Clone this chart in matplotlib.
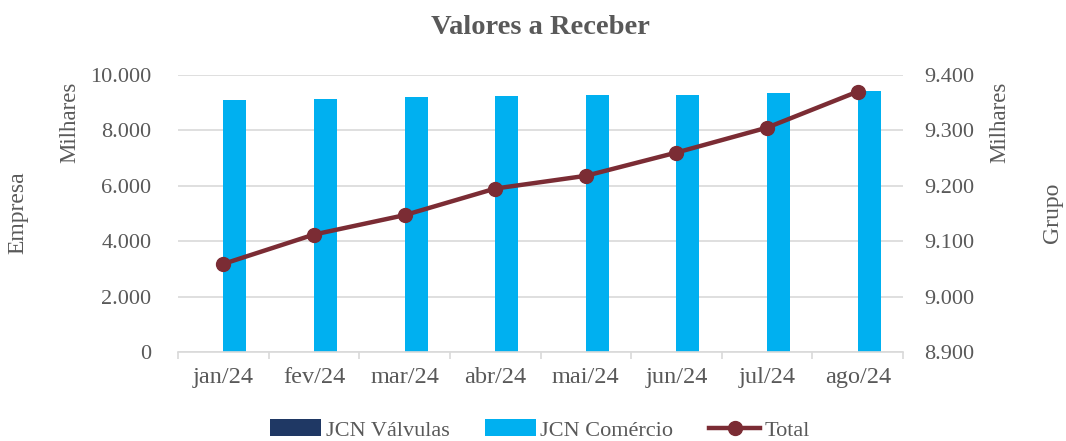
import numpy as np
import matplotlib
matplotlib.use("Agg")
import matplotlib.pyplot as plt
from matplotlib.ticker import FuncFormatter, MultipleLocator, FixedLocator

# dados (em milhares)
meses = ["jan/24", "fev/24", "mar/24", "abr/24", "mai/24", "jun/24", "jul/24", "ago/24"]
jcn_valvulas = [0, 0, 0, 0, 0, 0, 0, 0]
jcn_comercio = [9087, 9144, 9195, 9231, 9267, 9289, 9339, 9412]
total = [9059, 9112, 9147, 9195, 9218, 9260, 9305, 9370]

COR_TEXTO = "#595959"
COR_GRADE = "#D9D9D9"
COR_VALV = "#1F3864"
COR_COM = "#00B0F0"
COR_TOTAL = "#7B2C34"
FONTE = ["Liberation Serif", "DejaVu Serif"]

plt.rcParams["font.family"] = FONTE

def fmt_milhar(v, pos):
    return f"{v:,.0f}".replace(",", ".")

fig = plt.figure(figsize=(10.66, 4.41), dpi=100)
ax = fig.add_axes([178 / 1066, 1 - 352 / 441, 725 / 1066, 277 / 441])
ax2 = ax.twinx()

x = np.arange(len(meses))
larg = 0.254
ax.bar(x - larg, jcn_valvulas, width=larg, align="edge", color=COR_VALV, label="JCN Válvulas", zorder=2)
ax.bar(x, jcn_comercio, width=larg, align="edge", color=COR_COM, label="JCN Comércio", zorder=2)
ax2.plot(x, total, color=COR_TOTAL, lw=3.2, marker="o", ms=10, label="Total", zorder=3)

ax.set_xlim(-0.5, len(meses) - 0.5)
ax.set_ylim(0, 10000)
ax2.set_ylim(8900, 9400)
ax.yaxis.set_major_locator(MultipleLocator(2000))
ax2.yaxis.set_major_locator(MultipleLocator(100))
ax.yaxis.set_major_formatter(FuncFormatter(fmt_milhar))
ax2.yaxis.set_major_formatter(FuncFormatter(fmt_milhar))
ax.grid(axis="y", color=COR_GRADE, lw=1.2, zorder=0)
ax.set_axisbelow(True)

ax.set_xticks(x)
ax.set_xticklabels(meses)
ax.xaxis.set_minor_locator(FixedLocator(np.arange(-0.5, len(meses), 1.0)))
ax.tick_params(axis="x", which="major", length=0, pad=11, labelsize=17.5, labelcolor=COR_TEXTO)
ax.tick_params(axis="x", which="minor", length=5, color=COR_GRADE, width=1.2)
ax.tick_params(axis="y", length=0, pad=19, labelsize=16, labelcolor=COR_TEXTO)
ax2.tick_params(axis="y", length=0, pad=15, labelsize=16, labelcolor=COR_TEXTO)

for a in (ax, ax2):
    for lado in ("top", "left", "right", "bottom"):
        a.spines[lado].set_visible(False)
ax.spines["bottom"].set_visible(True)
ax.spines["bottom"].set_color(COR_GRADE)
ax.spines["bottom"].set_linewidth(1.2)

fig.text(540 / 1066, 1 - 27 / 441, "Valores a Receber", ha="center", va="center",
         fontsize=20.5, fontweight="bold", color=COR_TEXTO)
fig.text(18 / 1066, 1 - 213 / 441, "Empresa", rotation=90, ha="center", va="center",
         fontsize=17, color=COR_TEXTO)
fig.text(70 / 1066, 1 - 122 / 441, "Milhares", rotation=90, ha="center", va="center",
         fontsize=16.5, color=COR_TEXTO)
fig.text(1000 / 1066, 1 - 122 / 441, "Milhares", rotation=90, ha="center", va="center",
         fontsize=16.5, color=COR_TEXTO)
fig.text(1053 / 1066, 1 - 213 / 441, "Grupo", rotation=90, ha="center", va="center",
         fontsize=17, color=COR_TEXTO)

h1, l1 = ax.get_legend_handles_labels()
h2, l2 = ax2.get_legend_handles_labels()
leg = fig.legend(h1 + h2, l1 + l2, loc="center", bbox_to_anchor=(540 / 1066, 1 - 430 / 441),
                 ncol=3, frameon=False, prop={"family": FONTE, "size": 16},
                 handlelength=2.3, handleheight=0.8,
                 columnspacing=1.6, handletextpad=0.2, labelcolor=COR_TEXTO)

fig.savefig("out.png", dpi=100)
